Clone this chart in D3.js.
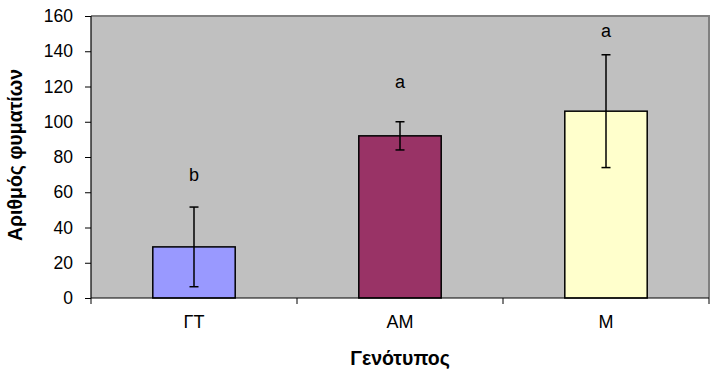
<!DOCTYPE html>
<html><head><meta charset="utf-8">
<script src="https://cdn.jsdelivr.net/npm/d3@7"></script>
<style>body{margin:0;background:#fff}svg{display:block;font-family:"Liberation Sans",Arial,sans-serif}</style>
</head><body><svg id="c" width="713" height="375"></svg>
<script>
const categories = ["ΓΤ", "ΑΜ", "Μ"];
const means = [29, 92, 106];
const errors = [22.6, 8, 32];
const letters = ["b", "a", "a"];
const letterValues = [69, 122, 151];
const colors = ["#9999FF", "#993366", "#FFFFCC"];
const yTicks = [0, 20, 40, 60, 80, 100, 120, 140, 160];

const svg = d3.select("#c");
const m = {l: 91, r: 709, t: 16, b: 298};
const x = d3.scaleBand().domain(categories).range([m.l, m.r]).paddingInner(0).paddingOuter(0);
const y = d3.scaleLinear().domain([0, 160]).range([m.b, m.t]);

svg.append("rect").attr("x", m.l).attr("y", m.t).attr("width", m.r - m.l).attr("height", m.b - m.t)
  .attr("fill", "#C0C0C0");
svg.append("path").attr("d", `M${m.l},${m.t}H${m.r}V${m.b}`).attr("fill", "none").attr("stroke", "#808080").attr("stroke-width", 2);

const bw = x.bandwidth() * 0.4;
svg.append("g").selectAll("rect").data(categories).join("rect")
  .attr("x", d => x(d) + x.bandwidth() / 2 - bw / 2)
  .attr("y", (d, i) => y(means[i]))
  .attr("width", bw)
  .attr("height", (d, i) => y(0) - y(means[i]))
  .attr("fill", (d, i) => colors[i]).attr("stroke", "#000").attr("stroke-width", 1.5);

categories.forEach((c, i) => {
  const cx = x(c) + x.bandwidth() / 2;
  const top = y(means[i] + errors[i]), bot = y(means[i] - errors[i]);
  const eb = svg.append("g").attr("stroke", "#000").attr("stroke-width", 1.5);
  eb.append("line").attr("x1", cx).attr("x2", cx).attr("y1", top).attr("y2", bot);
  eb.append("line").attr("x1", cx - 4.5).attr("x2", cx + 4.5).attr("y1", top).attr("y2", top);
  eb.append("line").attr("x1", cx - 4.5).attr("x2", cx + 4.5).attr("y1", bot).attr("y2", bot);
  svg.append("text").attr("x", cx).attr("y", y(letterValues[i])).attr("text-anchor", "middle")
    .attr("dominant-baseline", "middle").attr("font-size", 18).text(letters[i]);
});

const ya = svg.append("g").attr("transform", `translate(${m.l},0)`)
  .call(d3.axisLeft(y).tickValues(yTicks).tickSize(6).tickPadding(12));
ya.attr("font-size", 17.5).attr("font-family", "Liberation Sans, Arial");
ya.select(".domain").attr("stroke-width", 1.2).attr("d", `M0,${m.b}V${m.t}`);
ya.selectAll("text").attr("fill", "#000");

const xa = svg.append("g").attr("transform", `translate(0,${m.b})`)
  .call(d3.axisBottom(x).tickSize(0).tickPadding(17));
xa.attr("font-size", 18).attr("font-family", "Liberation Sans, Arial");
xa.select(".domain").attr("stroke-width", 1.2).attr("d", `M${m.l},0H${m.r}`);
xa.selectAll("text").attr("fill", "#000");
const bounds = [m.l].concat(categories.map(c => x(c) + x.bandwidth()));
xa.selectAll("line.sep").data(bounds).join("line").attr("class", "sep")
  .attr("x1", d => d).attr("x2", d => d).attr("y1", 0).attr("y2", 6).attr("stroke", "#000");

svg.append("text").attr("x", (m.l + m.r) / 2 - 0).attr("y", 365).attr("text-anchor", "middle")
  .attr("font-size", 19.5).attr("font-weight", "bold").text("Γενότυπος");
svg.append("text").attr("transform", `translate(22,${(m.t + m.b) / 2 - 2}) rotate(-90)`)
  .attr("text-anchor", "middle").attr("font-size", 19.5).attr("font-weight", "bold").text("Αριθμός φυματίων");
</script></body></html>
